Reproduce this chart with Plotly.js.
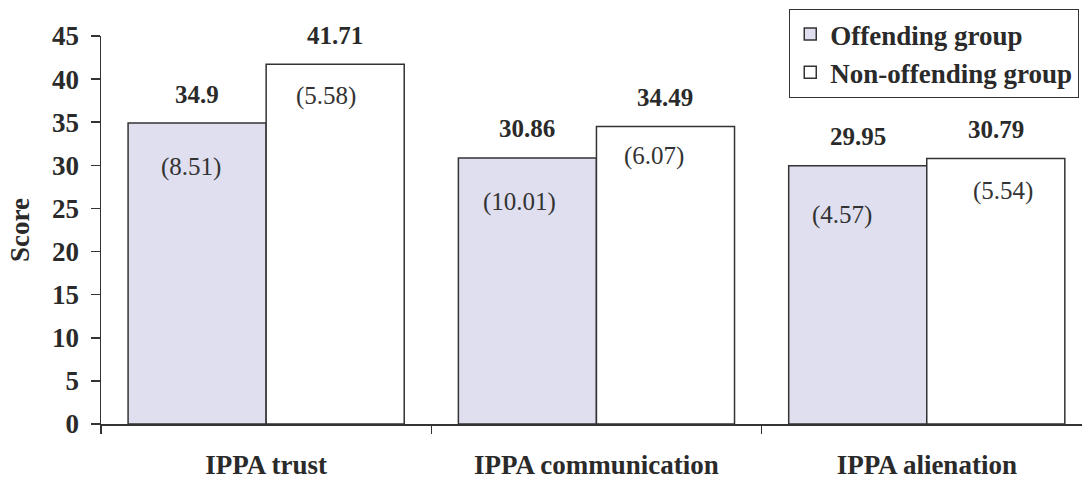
<!DOCTYPE html>
<html><head><meta charset="utf-8">
<script src="https://cdn.plot.ly/plotly-3.0.1.min.js"></script>
<style>html,body{margin:0;padding:0;background:#fff}#chart{width:1082px;height:480px}</style>
</head><body><div id="chart"></div>
<script>
var categories = ["IPPA trust", "IPPA communication", "IPPA alienation"];
var offendingMeans = [34.9, 30.86, 29.95];
var nonOffendingMeans = [41.71, 34.49, 30.79];
var offendingSD = ["(8.51)", "(10.01)", "(4.57)"];
var nonOffendingSD = ["(5.58)", "(6.07)", "(5.54)"];
var seriesNames = ["Offending group", "Non-offending group"];

// label placement tweaks (pixels), not data
var meanShift = 29;
var sdShiftOff = [{x:-6,y:-44},{x:-8,y:-44},{x:-16,y:-49}];
var sdShiftNon = [{x:-9,y:-32},{x:-11,y:-29},{x:7,y:-32}];

var serif = "Liberation Serif, Times New Roman, serif";
var ink = "#2a2a2a";
var traces = [
  {type:"bar", name:seriesNames[0], x:categories, y:offendingMeans,
   marker:{color:"#dfdff0", line:{color:"#333333", width:1.5}}, hoverinfo:"none"},
  {type:"bar", name:seriesNames[1], x:categories, y:nonOffendingMeans,
   marker:{color:"#ffffff", line:{color:"#333333", width:1.5}}, hoverinfo:"none"}
];

var ann = [];
var off = 0.209;
categories.forEach(function(c, i){
  ann.push({x:i-off, y:offendingMeans[i], xref:"x", yref:"y", text:"<b>"+offendingMeans[i]+"</b>", showarrow:false, yshift:meanShift, font:{family:serif,size:25,color:ink}});
  ann.push({x:i+off, y:nonOffendingMeans[i], xref:"x", yref:"y", text:"<b>"+nonOffendingMeans[i]+"</b>", showarrow:false, yshift:meanShift, font:{family:serif,size:25,color:ink}});
  ann.push({x:i-off, y:offendingMeans[i], xref:"x", yref:"y", text:offendingSD[i], showarrow:false, xshift:sdShiftOff[i].x, yshift:sdShiftOff[i].y, font:{family:serif,size:25,color:"#333"}});
  ann.push({x:i+off, y:nonOffendingMeans[i], xref:"x", yref:"y", text:nonOffendingSD[i], showarrow:false, xshift:sdShiftNon[i].x, yshift:sdShiftNon[i].y, font:{family:serif,size:25,color:"#333"}});
});

var layout = {
  width:1082, height:480,
  margin:{l:101, r:0, t:36, b:56},
  paper_bgcolor:"#fff", plot_bgcolor:"#fff",
  barmode:"group", bargap:0.164, bargroupgap:0,
  font:{family:serif, color:ink},
  showlegend:true,
  legend:{x:0.997, xanchor:"right", y:1.07, yanchor:"top", bgcolor:"#fff", bordercolor:"#333", borderwidth:1.2,
    itemwidth:30, font:{family:serif, size:27, color:ink, weight:"bold"}, tracegroupgap:0},
  xaxis:{range:[-0.5, 2.47], showline:true, linecolor:"#333", linewidth:1.5,
    ticks:"outside", tickson:"boundaries", ticklen:8, tickcolor:"#333", tickwidth:1.5,
    ticklabelstandoff:16, tickfont:{family:serif, size:27, color:ink, weight:"bold"},
    showgrid:false, zeroline:false, fixedrange:true},
  yaxis:{range:[0,45], dtick:5, showline:true, linecolor:"#333", linewidth:1.5,
    ticks:"outside", ticklen:9, tickcolor:"#333", tickwidth:1.5, ticklabelstandoff:6,
    tickfont:{family:serif, size:27, color:ink, weight:"bold"},
    title:{text:"<b>Score</b>", font:{family:serif, size:27, color:ink}, standoff:14},
    showgrid:false, zeroline:false, fixedrange:true},
  annotations:ann
};
Plotly.newPlot("chart", traces, layout, {staticPlot:true, displayModeBar:false});
</script></body></html>
